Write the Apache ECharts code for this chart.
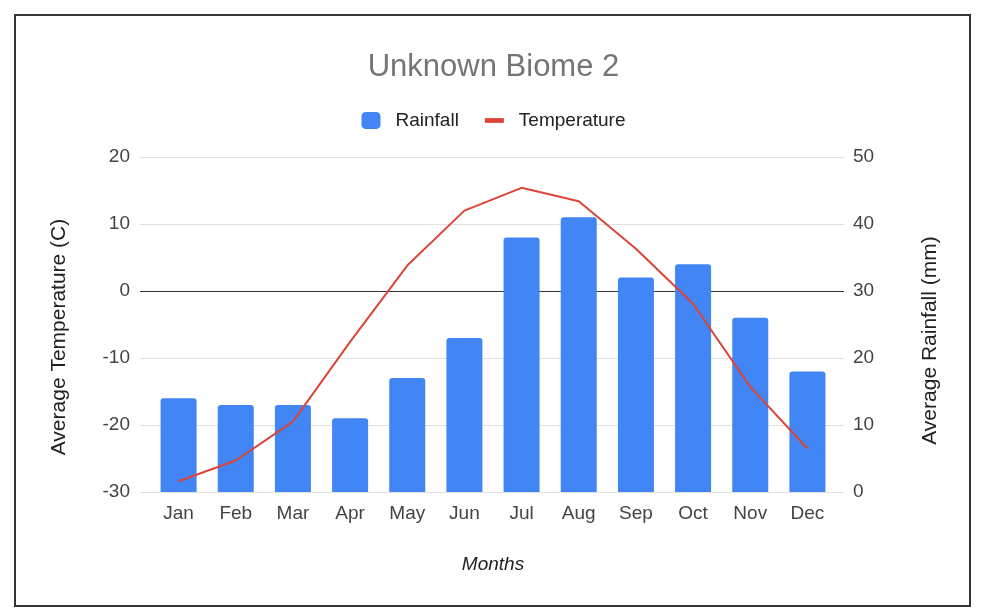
<!DOCTYPE html>
<html>
<head>
<meta charset="utf-8">
<script src="https://cdn.jsdelivr.net/npm/echarts@6/dist/echarts.min.js"></script>
<style>
  html, body { margin: 0; padding: 0; background: #fff; }
  #chart { width: 987px; height: 616px; }
</style>
</head>
<body>
<div id="chart"></div>
<script>
// months on the x axis
var months = ['Jan', 'Feb', 'Mar', 'Apr', 'May', 'Jun', 'Jul', 'Aug', 'Sep', 'Oct', 'Nov', 'Dec'];
// rainfall in mm (right axis)
var rainfall = [14, 13, 13, 11, 17, 23, 38, 41, 32, 34, 26, 18];
// temperature in C (left axis)
var temperature = [-28.4, -25.3, -19.5, -7.6, 3.8, 12, 15.4, 13.4, 6.3, -1.9, -14.3, -23.5];

var fontName = '"Liberation Sans", Arial, sans-serif';
var gridGray = '#e0e0e0';

var chart = echarts.init(document.getElementById('chart'));
var option = {
    backgroundColor: '#fff',
    animation: false,
    title: {
        text: 'Unknown Biome 2',
        left: 'center',
        top: 47,
        textStyle: { fontFamily: fontName, fontSize: 31, fontWeight: 'normal', color: '#757575' }
    },
    legend: {
        top: 106,
        left: 'center',
        itemGap: 26,
        itemWidth: 19,
        itemHeight: 17,
        textStyle: { fontFamily: fontName, fontSize: 19, color: '#222', padding: [0, 0, 0, 10] },
        data: [
            { name: 'Rainfall', icon: 'roundRect' },
            { name: 'Temperature', icon: 'path://M0,0H20V5H0Z' }
        ]
    },
    // grid 0 holds the data, grid 1 draws the wider gridlines and axis labels
    grid: [
        { left: 150, right: 151, top: 157, bottom: 124 },
        { left: 140, right: 143, top: 157, bottom: 124 }
    ],
    xAxis: [
        {
            type: 'category',
            gridIndex: 0,
            data: months,
            name: 'Months',
            nameLocation: 'middle',
            nameGap: 63,
            nameTextStyle: { fontFamily: fontName, fontSize: 19, fontStyle: 'italic', color: '#222' },
            axisTick: { show: false },
            axisLine: { show: false },
            axisLabel: { fontFamily: fontName, fontSize: 19, color: '#444', margin: 12 }
        },
        {
            type: 'category',
            gridIndex: 1,
            data: months,
            show: false
        }
    ],
    yAxis: [
        {
            type: 'value',
            gridIndex: 0,
            min: -30, max: 20, interval: 10,
            show: false
        },
        {
            type: 'value',
            gridIndex: 0,
            min: 0, max: 50, interval: 10,
            show: false
        },
        {
            type: 'value',
            gridIndex: 1,
            position: 'left',
            min: -30, max: 20, interval: 10,
            name: 'Average Temperature (C)',
            nameLocation: 'middle',
            nameGap: 70,
            nameTextStyle: { fontFamily: fontName, fontSize: 21, color: '#222', padding: [0, 25, 0, 0] },
            axisLine: { show: false },
            axisTick: { show: false },
            axisLabel: { fontFamily: fontName, fontSize: 19, color: '#444', margin: 10 },
            splitLine: { lineStyle: { color: [gridGray, gridGray, gridGray, '#333', gridGray, gridGray] } }
        },
        {
            type: 'value',
            gridIndex: 1,
            position: 'right',
            min: 0, max: 50, interval: 10,
            name: 'Average Rainfall (mm)',
            nameLocation: 'middle',
            nameGap: 76,
            nameTextStyle: { fontFamily: fontName, fontSize: 21, color: '#222', padding: [0, 32, 0, 0] },
            axisLine: { show: false },
            axisTick: { show: false },
            axisLabel: { fontFamily: fontName, fontSize: 19, color: '#444', margin: 9 },
            splitLine: { show: false }
        }
    ],
    series: [
        {
            name: 'Rainfall',
            type: 'bar',
            xAxisIndex: 0,
            yAxisIndex: 1,
            barWidth: '63%',
            itemStyle: { color: '#4285f4', borderRadius: [3, 3, 0, 0] },
            data: rainfall,
            z: 2
        },
        {
            name: 'Temperature',
            type: 'line',
            xAxisIndex: 0,
            yAxisIndex: 0,
            symbol: 'none',
            lineStyle: { color: '#db4437', width: 2 },
            itemStyle: { color: '#db4437' },
            data: temperature,
            z: 3
        }
    ],
    graphic: [
        {
            type: 'rect',
            shape: { x: 15, y: 15, width: 955, height: 591 },
            style: { fill: 'none', stroke: '#333', lineWidth: 2 },
            silent: true
        }
    ]
};
chart.setOption(option);
</script>
</body>
</html>
